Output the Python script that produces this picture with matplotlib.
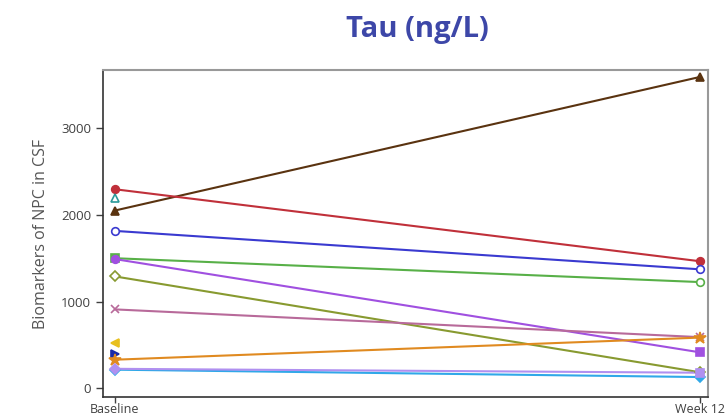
import matplotlib
matplotlib.use("Agg")
import matplotlib.pyplot as plt
import numpy as np

timepoints = ["Baseline", "Week 12"]
# each series: baseline value, week-12 value (None = missing)
series_names = ["s1", "s2", "s3", "s4", "s5", "s6", "s7", "s8", "s9", "s10", "s11", "s12", "s13"]
baseline = [2050, 2295, 2190, 1815, 1500, 1490, 1290, 910, 520, 392, 330, 215, 225]
week12 = [3590, 1465, None, 1372, 1225, 415, 185, 590, None, None, 585, 130, 180]
colors = ["#5a3310", "#c0303a", "#2a9a9a", "#3a3ad0", "#58b048", "#a050e0", "#889a30",
          "#b86a9a", "#e8c020", "#1a2aa8", "#e08a20", "#30a8e8", "#b090f0"]
markers_base = ["^", "o", "^", "o", "s", "o", "D", "x", "<", ">", "*", "D", "D"]
markers_end = ["^", "o", "^", "o", "o", "s", "D", "x", "<", ">", "*", "D", "s"]
filled_base = [True, True, False, False, True, True, False, True, True, True, True, True, True]
filled_end = [True, True, False, False, False, True, False, True, True, True, True, True, True]
ymin, ymax = -100, 3670
yticks = [0, 1000, 2000, 3000]

plt.rcParams['font.family'] = ['Open Sans', 'DejaVu Sans']
fig = plt.figure(figsize=(7.28, 4.2), dpi=100)
ax = fig.add_axes([103/728, 1-397/420, 605/728, 327/420])

x = np.arange(len(timepoints))
for i in range(len(series_names)):
    c = colors[i]
    b, w = baseline[i], week12[i]
    if w is not None:
        ax.plot(x, [b, w], color=c, lw=1.5, zorder=2)
    for xi, val, mk, fl in [(0, b, markers_base[i], filled_base[i]), (1, w, markers_end[i], filled_end[i])]:
        if val is None:
            continue
        ms = 9 if mk == "*" else 5.5
        ax.plot([xi], [val], marker=mk, ms=ms, color=c, mec=c,
                mfc=(c if fl else "white"), mew=1.2, ls="none", zorder=3)

ax.set_xlim(-0.0205, 1.0137)
ax.set_ylim(ymin, ymax)
ax.set_xticks(x)
ax.set_xticklabels(timepoints, fontsize=9, color="#404040")
ax.set_yticks(yticks)
ax.set_yticklabels([str(t) for t in yticks], fontsize=9.5, color="#404040")
ax.tick_params(axis="both", length=5, color="#404040", width=1)
ax.tick_params(axis="x", length=4, pad=0.5)
ax.set_ylabel("Biomarkers of NPC in CSF", fontsize=11.5, color="#555555", labelpad=9)
for s in ["left", "bottom"]:
    ax.spines[s].set_color("#333333")
    ax.spines[s].set_linewidth(1.2)
for s in ["top", "right"]:
    ax.spines[s].set_color("#999999")
    ax.spines[s].set_linewidth(1.5)

fig.text(417/728, 1-30/420, "Tau (ng/L)", ha="center", va="center", fontsize=21,
         fontweight="bold", color="#3d47a8")

fig.savefig("out.png", dpi=100)
